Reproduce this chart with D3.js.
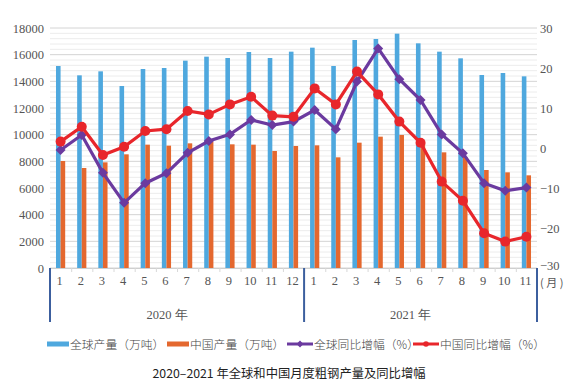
<!DOCTYPE html>
<html><head><meta charset="utf-8">
<script src="https://cdn.jsdelivr.net/npm/d3@7"></script>
<style>
body{margin:0;background:#fff;}
svg{display:block;}
</style></head>
<body><svg id="c" width="574" height="388"></svg>
<script>
const months = ["1","2","3","4","5","6","7","8","9","10","11","12","1","2","3","4","5","6","7","8","9","10","11"];
const years = ["2020 年","2021 年"];
const yearCounts = [12, 11];
const globalOutput = [15150,14450,14750,13650,14925,15000,15550,15850,15750,16200,15750,16225,16525,15150,17100,17175,17575,16850,16225,15725,14475,14625,14375];
const chinaOutput = [8025,7500,7925,8525,9250,9175,9350,9475,9275,9250,8775,9150,9200,8300,9400,9850,9975,9400,8675,8325,7350,7175,6950];
const globalYoY = [-0.5,3.25,-6.2,-13.7,-8.8,-6.3,-1.2,1.75,3.4,7.0,5.75,6.6,9.5,4.7,16.6,24.9,17.2,12.0,3.4,-1.3,-8.8,-10.7,-9.9];
const chinaYoY = [1.6,5.3,-1.75,0.3,4.25,4.7,9.25,8.4,10.9,12.8,8.1,7.8,14.9,10.9,19.1,13.4,6.6,1.3,-8.4,-13.2,-21.3,-23.4,-22.2];
const leftTicks = [0,2000,4000,6000,8000,10000,12000,14000,16000,18000];
const rightTicks = [-30,-20,-10,0,10,20,30];
const legendLabels = ["全球产量（万吨）","中国产量（万吨）","全球同比增幅（%）","中国同比增幅（%）"];
const monthUnit = "(月)";
const title = "2020–2021 年全球和中国月度粗钢产量及同比增幅";

const C = {blue:"#4fa8de", orange:"#e4682f", purple:"#6b3a9f", red:"#e8262b", axis:"#3c5f9e"};
const svg = d3.select("#c");
const L = 50, R = 537, T = 28, B = 268;
const idx = months.map((d,i)=>i);
const x = d3.scaleBand().domain(idx).range([L,R]).paddingInner(0).paddingOuter(0);
const yL = d3.scaleLinear().domain([0,18000]).range([B,T]);
const yR = d3.scaleLinear().domain([-30,30]).range([B,T]);
const cx = i => x(i) + x.bandwidth()/2;
const serif = "'Liberation Serif','DejaVu Serif',serif";
const cjk = "'Noto Sans CJK SC','Noto Sans',sans-serif";

// minor gridlines
const g = svg.append("g");
d3.range(0,18001,400).forEach(v=>{
  g.append("line").attr("x1",L).attr("x2",R).attr("y1",yL(v)).attr("y2",yL(v))
   .attr("stroke", v%2000===0 ? "#d4d4d4" : "#ececec").attr("stroke-width",1);
});

// bars
const bw = 4.6;
svg.append("g").selectAll("rect").data(globalOutput).join("rect")
  .attr("x",(d,i)=>cx(i)-bw).attr("width",bw).attr("y",d=>yL(d)).attr("height",d=>B-yL(d)).attr("fill",C.blue);
svg.append("g").selectAll("rect").data(chinaOutput).join("rect")
  .attr("x",(d,i)=>cx(i)).attr("width",bw).attr("y",d=>yL(d)).attr("height",d=>B-yL(d)).attr("fill",C.orange);

// left axis
const ax = svg.append("g").attr("transform",`translate(${L-6},0)`)
  .call(d3.axisLeft(yL).tickValues(leftTicks).tickSize(0).tickPadding(0).tickFormat(d3.format("d")));
ax.select(".domain").remove();
ax.selectAll("text").attr("font-family",serif).attr("font-size",12.5).attr("fill","#555");
// right axis
const ar = svg.append("g").attr("transform",`translate(${R+3},0)`)
  .call(d3.axisRight(yR).tickValues(rightTicks).tickSize(0).tickPadding(0).tickFormat(d=>d<0?"−"+Math.abs(d):d));
ar.select(".domain").remove();
ar.selectAll("text").attr("font-family",serif).attr("font-size",12.5).attr("fill","#555");
ar.selectAll(".tick").filter(d=>d===-30).select("text").attr("dy","0.1em");

// bottom axis
svg.append("line").attr("x1",L).attr("x2",R).attr("y1",B+0.5).attr("y2",B+0.5).attr("stroke","#cfcfcf");
idx.forEach(i=>{
  svg.append("line").attr("x1",x(i)+0.5).attr("x2",x(i)+0.5).attr("y1",B).attr("y2",B+4).attr("stroke","#d8d8d8");
});
svg.append("g").selectAll("text").data(months).join("text")
  .attr("x",(d,i)=>cx(i)-1).attr("y",285).attr("text-anchor","middle")
  .attr("font-family",serif).attr("font-size",12.5).attr("fill","#555").text(d=>d);
svg.append("text").attr("x",540).attr("y",287).attr("font-family",cjk).attr("font-size",11)
  .attr("fill","#555").attr("letter-spacing","2.5px").text(monthUnit);

// year separators
let start = 0;
const seps = [x(0)];
yearCounts.forEach((n,k)=>{
  const a = x(start), b = x(start+n-1)+x.bandwidth();
  seps.push(b);
  svg.append("text").attr("x",(a+b)/2-10).attr("y",319).attr("text-anchor","middle")
    .attr("font-family",serif).attr("font-size",12.5).attr("fill","#555").text(years[k]);
  start += n;
});
seps.forEach(s=>{
  svg.append("line").attr("x1",s).attr("x2",s).attr("y1",B).attr("y2",322).attr("stroke",C.axis).attr("stroke-width",2);
});

// lines
const line = d3.line().x((d,i)=>cx(i)).y(d=>yR(d));
svg.append("path").datum(globalYoY).attr("d",line).attr("fill","none").attr("stroke",C.purple).attr("stroke-width",3.2);
const diamond = d3.symbol().type(d3.symbolDiamond2).size(64);
svg.append("g").selectAll("path").data(globalYoY).join("path")
  .attr("transform",(d,i)=>`translate(${cx(i)},${yR(d)})`).attr("d",diamond()).attr("fill",C.purple);
svg.append("path").datum(chinaYoY).attr("d",line).attr("fill","none").attr("stroke",C.red).attr("stroke-width",3.2);
svg.append("g").selectAll("circle").data(chinaYoY).join("circle")
  .attr("cx",(d,i)=>cx(i)).attr("cy",d=>yR(d)).attr("r",5).attr("fill",C.red);

// legend
const ly = 344;
const leg = svg.append("g");
const lx = [47,167,287,413];
const lw = [22,22,26,26];
const lc = [C.blue,C.orange,C.purple,C.red];
legendLabels.forEach((t,k)=>{
  if(k<2){
    leg.append("rect").attr("x",lx[k]).attr("y",ly-2.5).attr("width",lw[k]).attr("height",5).attr("fill",lc[k]);
  } else {
    leg.append("line").attr("x1",lx[k]).attr("x2",lx[k]+lw[k]).attr("y1",ly).attr("y2",ly).attr("stroke",lc[k]).attr("stroke-width",3);
    if(k===2) leg.append("path").attr("transform",`translate(${lx[k]+lw[k]/2},${ly})`).attr("d",d3.symbol().type(d3.symbolDiamond2).size(30)()).attr("fill",lc[k]);
    else leg.append("circle").attr("cx",lx[k]+lw[k]/2).attr("cy",ly).attr("r",2.8).attr("fill",lc[k]);
  }
  leg.append("text").attr("x",lx[k]+lw[k]+1).attr("y",ly+4.5).attr("font-family",cjk).attr("font-size",11.8)
    .attr("font-weight",300).attr("fill","#444").text(t);
});

// title
svg.append("text").attr("x",289).attr("y",378).attr("text-anchor","middle").attr("font-family",cjk)
  .attr("font-size",12.3).attr("fill","#222").text(title);
</script></body></html>
